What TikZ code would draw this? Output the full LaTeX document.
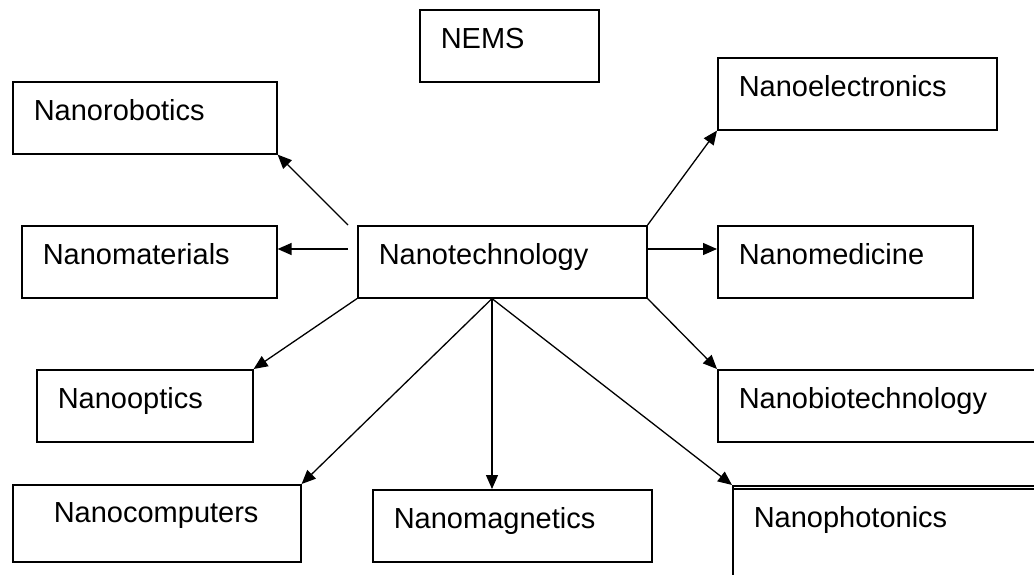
\documentclass[tikz,border=0pt]{standalone}
\usepackage{fontspec}
\setmainfont{Liberation Sans}
\usetikzlibrary{arrows.meta}

\begin{document}
\begin{tikzpicture}[x=1pt,y=-1pt,>={Triangle[length=14pt,width=12pt]},
  box/.style={draw,line width=1.6pt,anchor=north west,inner xsep=21pt,inner ysep=0pt,text height=39pt,text depth=33pt,align=left,font=\fontsize{29}{34}\selectfont},
  link/.style={->,line width=1.3pt}]
\useasboundingbox (0,0) rectangle (1034,574);
\clip (0,0) rectangle (1034,574);
\node[box,text width=137pt] (nems) at (419,9) {NEMS};
\node[box,text width=222pt] (robo) at (12,81) {Nanorobotics};
\node[box,text width=213pt] (mat) at (21,225) {Nanomaterials};
\node[box,text width=247pt] (tech) at (357,225) {Nanotechnology};
\node[box,text width=237pt] (elec) at (717,57) {Nanoelectronics};
\node[box,text width=213pt] (med) at (717,225) {Nanomedicine};
\node[box,text width=174pt] (optics) at (36,369) {Nanooptics};
\node[box,text width=288pt] (bio) at (717,369) {Nanobiotechnology};
\node[box,text width=206pt,inner xsep=41pt,text height=38pt,text depth=39pt] (comp) at (12,484) {Nanocomputers};
\node[box,text width=237pt] (mag) at (372,489) {Nanomagnetics};
\node[box,text width=288pt,text height=42pt,text depth=60pt] (photo) at (732,485) {Nanophotonics};
\draw[line width=1.6pt] ([yshift=-4pt]photo.north west) -- ([yshift=-4pt]photo.north east);
\coordinate (lt) at ([xshift=-9pt]tech.north west);
\coordinate (lm) at ([xshift=-9pt,yshift=-24pt]tech.north west);
\coordinate (rm) at ([yshift=-24pt]tech.north east);
\coordinate (hub) at ([xshift=135pt]tech.south west);
\draw[link] (lt) -- (robo.south east);
\draw[link] (lm) -- (lm -| mat.east);
\draw[link] (tech.north east) -- (elec.south west);
\draw[link] (rm) -- (rm -| med.west);
\draw[link] (tech.south west) -- (optics.north east);
\draw[link] (tech.south east) -- (bio.north west);
\draw[link] (hub) -- (comp.north east);
\draw[link] (hub) -- (hub |- mag.north);
\draw[link] (hub) -- (photo.north west);
\end{tikzpicture}
\end{document}
